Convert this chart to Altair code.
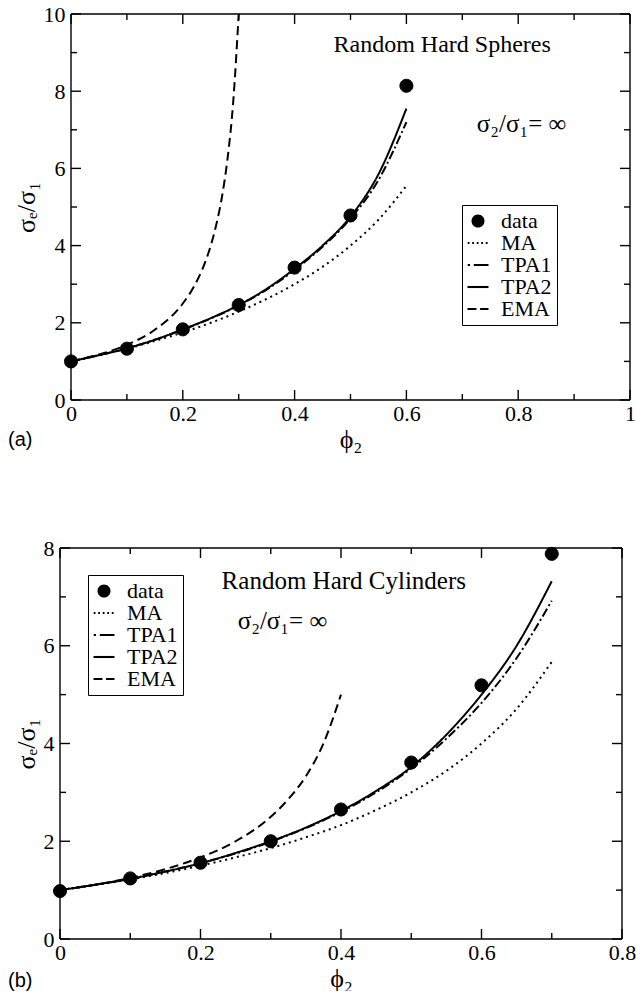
import altair as alt
import pandas as pd

# ---------------- Panel (a): Random Hard Spheres ----------------
a_phi_pts = [0.0, 0.1, 0.2, 0.3, 0.4, 0.5, 0.6]
a_data = [1.0, 1.33, 1.83, 2.46, 3.43, 4.78, 8.14]

a_phi = [0.0, 0.05, 0.1, 0.15, 0.2, 0.25, 0.3, 0.35, 0.4, 0.45, 0.5, 0.55, 0.6]
a_ma = [1.0, 1.16, 1.33, 1.53, 1.75, 2.0, 2.29, 2.62, 3.0, 3.45, 4.0, 4.67, 5.55]
a_tpa1 = [1.0, 1.16, 1.34, 1.56, 1.82, 2.11, 2.45, 2.86, 3.37, 3.97, 4.7, 5.7, 7.2]
a_tpa2 = [1.0, 1.16, 1.34, 1.56, 1.83, 2.12, 2.46, 2.88, 3.4, 4.0, 4.75, 5.85, 7.55]

a_ema_phi = [0.0, 0.05, 0.1, 0.15, 0.2, 0.22, 0.24, 0.25, 0.26, 0.27, 0.28, 0.29, 0.3]
a_ema = [1.0, 1.18, 1.43, 1.82, 2.5, 2.94, 3.57, 4.0, 4.55, 5.26, 6.25, 7.69, 10.0]

# ---------------- Panel (b): Random Hard Cylinders ----------------
b_phi_pts = [0.0, 0.1, 0.2, 0.3, 0.4, 0.5, 0.6, 0.7]
b_data = [0.98, 1.24, 1.56, 2.0, 2.65, 3.61, 5.19, 7.88]

b_phi = [0.0, 0.05, 0.1, 0.15, 0.2, 0.25, 0.3, 0.35, 0.4, 0.45, 0.5, 0.55, 0.6, 0.65, 0.7]
b_ma = [1.0, 1.105, 1.22, 1.35, 1.5, 1.67, 1.86, 2.08, 2.33, 2.64, 3.0, 3.44, 4.0, 4.71, 5.67]
b_tpa1 = [1.0, 1.11, 1.23, 1.38, 1.55, 1.75, 1.99, 2.27, 2.6, 3.0, 3.49, 4.1, 4.83, 5.75, 6.92]
b_tpa2 = [1.0, 1.11, 1.23, 1.38, 1.55, 1.76, 2.0, 2.28, 2.62, 3.03, 3.52, 4.18, 5.0, 6.0, 7.32]

b_ema_phi = [0.0, 0.05, 0.1, 0.15, 0.2, 0.25, 0.3, 0.325, 0.35, 0.375, 0.4]
b_ema = [1.0, 1.11, 1.25, 1.43, 1.67, 2.0, 2.5, 2.86, 3.33, 4.0, 5.0]

# ---------------- Legend / styling ----------------
SERIES = ["data", "MA", "TPA1", "TPA2", "EMA"]
DASHES = [[1, 0], [2, 4], [9, 3, 2, 3], [1, 0], [9, 5]]


def bar(x0, x1, h=0.1):
    return f"M{x0},{-h}L{x1},{-h}L{x1},{h}L{x0},{h}Z"


# legend glyphs drawn as filled paths (dotted, dash-dot, solid, dashed)
CIRC_SYM = "M-0.62,0A0.62,0.62 0 1,0 0.62,0A0.62,0.62 0 1,0 -0.62,0Z"
MA_SYM = "".join(bar(x, round(x + 0.17, 2)) for x in [-0.98, -0.55, -0.12, 0.31, 0.74])
TPA1_SYM = bar(-0.98, -0.76) + bar(-0.4, 1)
TPA2_SYM = bar(-1, 1)
EMA_SYM = bar(-1, -0.15) + bar(0.2, 1)
SHAPES = [CIRC_SYM, MA_SYM, TPA1_SYM, TPA2_SYM, EMA_SYM]

SERIF = "Liberation Serif"
SANS = "Liberation Sans"


def curves_df(pairs):
    rows = []
    for name, xs, ys in pairs:
        for i, (x, y) in enumerate(zip(xs, ys)):
            rows.append({"series": name, "phi": x, "val": y, "ord": i})
    return pd.DataFrame(rows)


def frame_df(xdom, ydom, xmaj, xmin_, ymaj, ymin_, xpx, H):
    lx = lambda px: px * (xdom[1] - xdom[0]) / xpx
    ly = lambda px: px * (ydom[1] - ydom[0]) / H
    rows = [
        {"x": xdom[0], "x2": xdom[1], "y": ydom[0], "y2": ydom[0]},
        {"x": xdom[0], "x2": xdom[1], "y": ydom[1], "y2": ydom[1]},
        {"x": xdom[0], "x2": xdom[0], "y": ydom[0], "y2": ydom[1]},
        {"x": xdom[1], "x2": xdom[1], "y": ydom[0], "y2": ydom[1]},
    ]
    for vals, L in ((xmaj, 10), (xmin_, 6)):
        for t in vals:
            rows.append({"x": t, "x2": t, "y": ydom[0], "y2": ydom[0] + ly(L)})
            rows.append({"x": t, "x2": t, "y": ydom[1], "y2": ydom[1] - ly(L)})
    for vals, L in ((ymaj, 10), (ymin_, 6)):
        for t in vals:
            rows.append({"x": xdom[0], "x2": xdom[0] + lx(L), "y": t, "y2": t})
            rows.append({"x": xdom[1], "x2": xdom[1] - lx(L), "y": t, "y2": t})
    return pd.DataFrame(rows)


def panel(W, H, shift, xdom, ydom, xmaj, xmin_, ymaj, ymin_, pts_x, pts_y, curves,
          legend_xy, title_txt, title_pos, title_size, ratio_pos, tag, tag_pos):
    xs = alt.Scale(domain=xdom, nice=False, zero=False, range=[shift, W])
    ys = alt.Scale(domain=ydom, nice=False, zero=False)
    leg = alt.Legend(
        orient="none", legendX=legend_xy[0], legendY=legend_xy[1], title=None,
        labelFont=SERIF, labelFontSize=22, labelColor="black", labelOffset=12,
        strokeColor="black", fillColor="white", padding=5, rowPadding=0,
        symbolSize=441, symbolStrokeWidth=0.5, symbolFillColor="black",
        symbolStrokeColor="black", cornerRadius=0,
    )
    xaxis = alt.Axis(
        values=xmaj, format="~g", ticks=False, domain=False, grid=False,
        labelFont=SERIF, labelFontSize=22, labelColor="black", labelPadding=3,
        labelFlush=False, labelOverlap=False, title="ϕ₂", titleFont=SERIF,
        titleFontSize=26, titleFontWeight="normal", titleColor="black", titlePadding=2,
    )
    yaxis = alt.Axis(
        values=ymaj, format="d", ticks=False, domain=False, grid=False, offset=-shift,
        labelFont=SERIF, labelFontSize=22, labelColor="black", labelPadding=6,
        labelFlush=False, labelOverlap=False, title="σₑ/σ₁", titleFont=SERIF,
        titleFontSize=26, titleFontWeight="normal", titleColor="black", titlePadding=4,
    )

    cdf = curves_df(curves)
    lines = alt.Chart(cdf).mark_line(color="black", strokeWidth=2, interpolate="monotone").encode(
        x=alt.X("phi:Q", scale=xs, axis=xaxis),
        y=alt.Y("val:Q", scale=ys, axis=yaxis),
        strokeDash=alt.StrokeDash("series:N", scale=alt.Scale(domain=SERIES, range=DASHES), legend=leg),
        order="ord:Q",
    )
    pdf = pd.DataFrame({"phi": pts_x, "val": pts_y, "series": ["data"] * len(pts_x)})
    points = alt.Chart(pdf).mark_point(filled=False, fill="black", stroke="black", strokeWidth=1,
                                       opacity=1, size=441).encode(
        x=alt.X("phi:Q", scale=xs, axis=xaxis),
        y=alt.Y("val:Q", scale=ys, axis=yaxis),
        shape=alt.Shape("series:N", scale=alt.Scale(domain=SERIES, range=SHAPES), legend=leg),
    )
    fdf = frame_df(xdom, ydom, xmaj, xmin_, ymaj, ymin_, W - shift, H)
    frame = alt.Chart(fdf).mark_rule(color="black", strokeWidth=1.4).encode(
        x=alt.X("x:Q", scale=xs, axis=xaxis), x2="x2:Q",
        y=alt.Y("y:Q", scale=ys, axis=yaxis), y2="y2:Q",
    )
    title = alt.Chart().mark_text(font=SERIF, fontSize=title_size, color="black",
                                  align="center", baseline="alphabetic").encode(
        x=alt.X(datum=title_pos[0], scale=xs, axis=xaxis),
        y=alt.Y(datum=title_pos[1], scale=ys, axis=yaxis),
        text=alt.value(title_txt),
    )
    ratio = alt.Chart().mark_text(font=SERIF, fontSize=25, color="black",
                                  align="left", baseline="alphabetic").encode(
        x=alt.X(datum=ratio_pos[0], scale=xs, axis=xaxis),
        y=alt.Y(datum=ratio_pos[1], scale=ys, axis=yaxis),
        text=alt.value("σ₂/σ₁= ∞"),
    )
    tagm = alt.Chart().mark_text(font=SANS, fontSize=20, color="black",
                                 align="left", baseline="middle").encode(
        x=alt.value(tag_pos[0]), y=alt.value(tag_pos[1]), text=alt.value(tag),
    )
    return alt.layer(lines, points, frame, title, ratio, tagm).properties(width=W, height=H)


# both panels share the same plot origin; panel (a)'s data area starts 11 px further right
top = panel(
    570, 386, 11, [0, 1], [0, 10],
    [0, 0.2, 0.4, 0.6, 0.8, 1.0], [0.1, 0.3, 0.5, 0.7, 0.9],
    [0, 2, 4, 6, 8, 10], [1, 3, 5, 7, 9],
    a_phi_pts, a_data,
    [("MA", a_phi, a_ma), ("TPA1", a_phi, a_tpa1), ("TPA2", a_phi, a_tpa2), ("EMA", a_ema_phi, a_ema)],
    (402, 191), "Random Hard Spheres", (0.664, 9.02), 24, (0.726, 6.94), "(a)", (-52, 426),
)

bottom = panel(
    562, 391, 0, [0, 0.8], [0, 8],
    [0, 0.2, 0.4, 0.6, 0.8], [0.1, 0.3, 0.5, 0.7],
    [0, 2, 4, 6, 8], [1, 3, 5, 7],
    b_phi_pts, b_data,
    [("MA", b_phi, b_ma), ("TPA1", b_phi, b_tpa1), ("TPA2", b_phi, b_tpa2), ("EMA", b_ema_phi, b_ema)],
    (28, 27), "Random Hard Cylinders", (0.404, 7.16), 25, (0.253, 6.34), "(b)", (-52, 433),
)

chart = alt.vconcat(top, bottom, spacing=85).resolve_scale(
    shape="independent", strokeDash="independent"
).resolve_legend(
    shape="independent", strokeDash="independent"
).properties(
    padding={"left": 8, "top": 3, "right": 0, "bottom": 0},
    background="white",
).configure_view(stroke=None)

chart.save("out.html", embed_options={"renderer": "svg", "actions": False})
